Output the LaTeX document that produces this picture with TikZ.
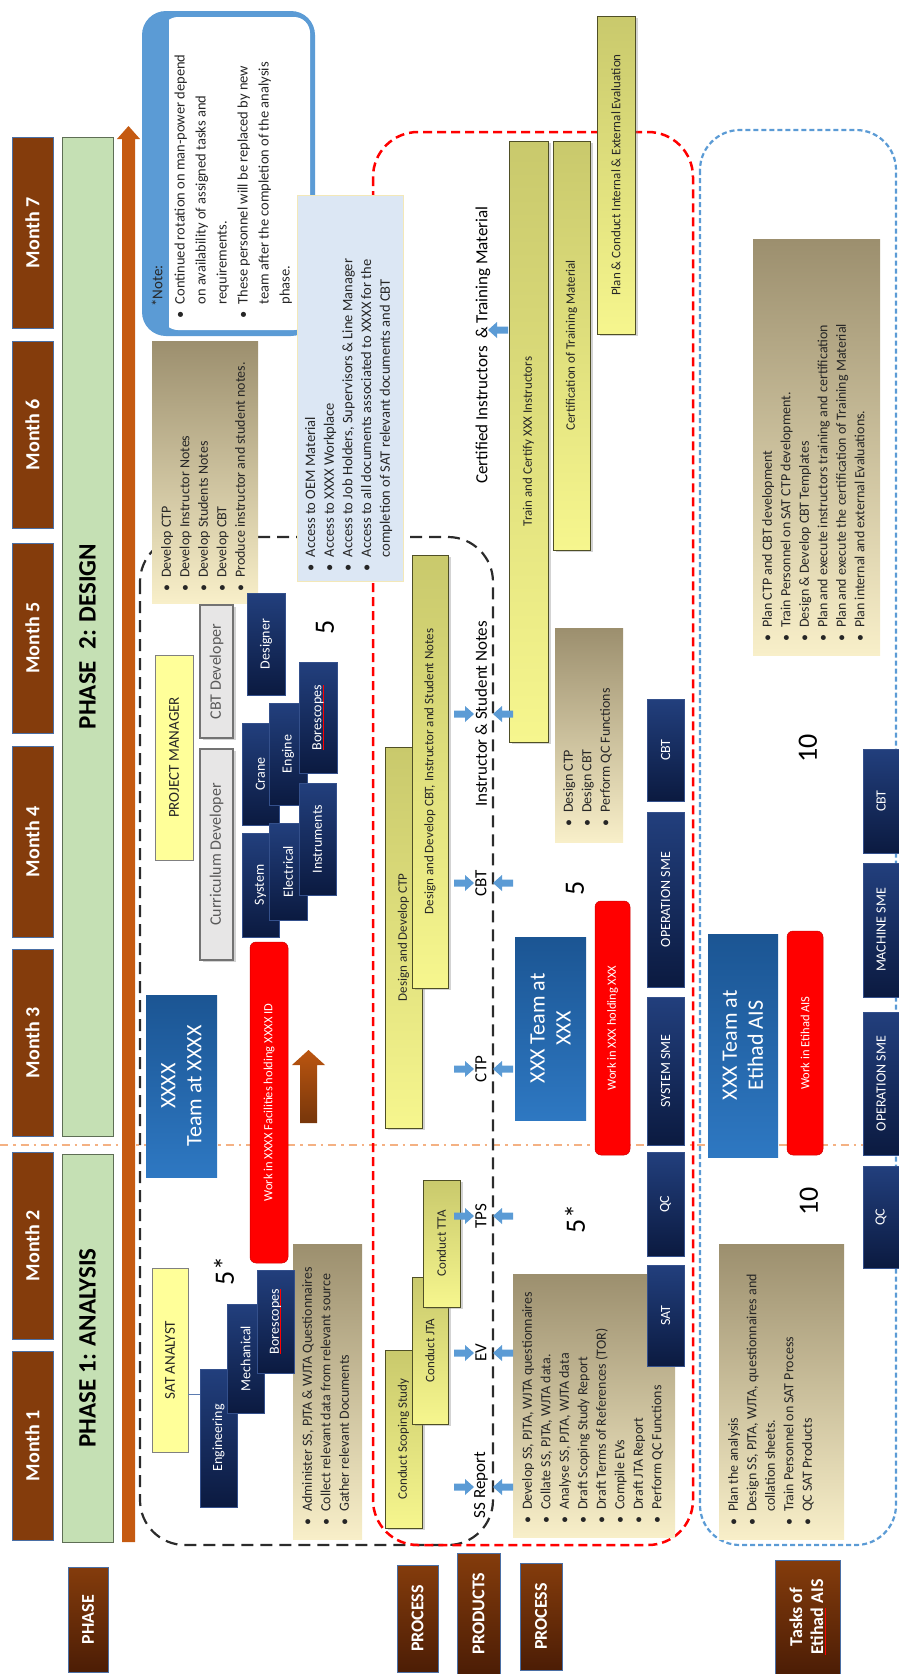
\documentclass[tikz,border=0pt]{standalone}
\usepackage{fontspec}
\setmainfont{Carlito}
\usetikzlibrary{calc,shadows}

\definecolor{brn}{HTML}{843C0C}
\definecolor{brnD}{HTML}{4C1D05}
\definecolor{edgeb}{HTML}{4A6FA5}
\definecolor{grn}{HTML}{C5E0B4}
\definecolor{grnedge}{HTML}{5E6E55}
\definecolor{org}{HTML}{C55A11}
\definecolor{noteb}{HTML}{5B9BD5}
\definecolor{beigeD}{HTML}{9C8F6E}
\definecolor{beigeL}{HTML}{F8EFC9}
\definecolor{ltblue}{HTML}{DCE7F4}
\definecolor{ltbedge}{HTML}{F3E8B8}
\definecolor{ylwD}{HTML}{C9C96C}
\definecolor{ylwL}{HTML}{F6F68E}
\definecolor{ylwedge}{HTML}{4F4F26}
\definecolor{navyL}{HTML}{223F7D}
\definecolor{navyD}{HTML}{0B1A40}
\definecolor{navyedge}{HTML}{34508C}
\definecolor{teamD}{HTML}{1B5593}
\definecolor{teamL}{HTML}{2E78C2}
\definecolor{peach}{HTML}{F4B183}
\definecolor{arrb}{HTML}{5B9BD5}
\definecolor{txt}{HTML}{262626}
\definecolor{greybox}{HTML}{E7E6E6}
\definecolor{greytxt}{HTML}{595959}
\definecolor{roleyl}{HTML}{FFFF99}
\definecolor{dashblk}{HTML}{2B2B2B}
\definecolor{linkb}{HTML}{5B7BB0}

% box given by its corners (x1,y1) and (x2,y2), y measured downwards
\newcommand\rbx[6]{%
  \pgfmathsetmacro\rbxcx{(#3+#5)/2}%
  \pgfmathsetmacro\rbxcy{(#4+#6)/2}%
  \pgfmathsetmacro\rbxw{#5-#3}%
  \pgfmathsetmacro\rbxh{#6-#4}%
  \node[inner sep=0pt, outer sep=0pt, #2, minimum width=\rbxw pt, minimum height=\rbxh pt] (#1) at (\rbxcx,\rbxcy) {};}
% box with a centred, upright-reading (rotated) label
\newcommand\tbx[8]{\rbx{#1}{#2}{#4}{#5}{#6}{#7}\node[rotate=90, #3] (#1-t) at (#1.center) {#8};}
% bullet list as a table
\newcommand\blist[1]{\begin{tabular}{@{}l@{\hspace{0.45em}}l@{}}#1\end{tabular}}
% word with a red spelling underline
\newsavebox\ulbox
\newcommand\redul[1]{\sbox\ulbox{#1}\rlap{\textcolor{red}{\rule[-2.2pt]{\wd\ulbox}{0.9pt}}}\usebox\ulbox}
% small blue block arrows
\newcommand\arrR[2]{\fill[arrb] (#1-10,#2-3.5) -- (#1+1,#2-3.5) -- (#1+1,#2-8) -- (#1+10,#2) -- (#1+1,#2+8) -- (#1+1,#2+3.5) -- (#1-10,#2+3.5) -- cycle;}
\newcommand\arrL[2]{\fill[arrb] (#1+10,#2-3.5) -- (#1-1,#2-3.5) -- (#1-1,#2-8) -- (#1-10,#2) -- (#1-1,#2+8) -- (#1-1,#2+3.5) -- (#1+10,#2+3.5) -- cycle;}

\begin{document}
\begin{tikzpicture}[x=1pt, y=-1pt,
  every node/.style={inner sep=0pt, outer sep=0pt},
  month/.style={fill=brn, draw=edgeb, line width=0.8pt},
  mtext/.style={text=white, font=\fontsize{20}{24}\selectfont\bfseries},
  phasebar/.style={fill=grn, draw=grnedge, line width=1pt},
  phtext/.style={text=black, font=\fontsize{25}{30}\selectfont\bfseries},
  lab/.style={top color=brn, bottom color=brnD, draw=edgeb, line width=0.8pt},
  labtext/.style={text=white, font=\fontsize{18}{21}\selectfont\bfseries},
  beige/.style={top color=beigeD, bottom color=beigeL},
  blt/.style={rotate=90, anchor=north west, text=txt, font=\fontsize{14}{18.5}\selectfont},
  navy/.style={top color=navyL, bottom color=navyD, draw=navyedge, line width=0.6pt},
  ntext/.style={text=white, font=\fontsize{14}{16}\selectfont},
  ybar/.style={top color=ylwD, bottom color=ylwL, draw=ylwedge, line width=0.8pt, drop shadow={shadow xshift=2.5pt, shadow yshift=-2pt, opacity=0.35}},
  ytext/.style={text=txt, font=\fontsize{13}{15}\selectfont},
  team/.style={top color=teamD, bottom color=teamL},
  ttext/.style={text=white, align=center, font=\fontsize{22}{26}\selectfont},
  redbox/.style={fill=red, draw=red!80!black, line width=0.5pt, rounded corners=6pt},
  rtext/.style={text=white, font=\fontsize{12.5}{14}\selectfont},
  role/.style={fill=roleyl, draw=gray, line width=1pt},
  roletext/.style={text=txt, font=\fontsize{15}{18}\selectfont},
  grey/.style={fill=greybox, draw=gray!90!black, line width=1.2pt, drop shadow={shadow xshift=2.5pt, shadow yshift=-2pt, opacity=0.35}},
  greytext/.style={text=greytxt, font=\fontsize{16}{19}\selectfont},
  prod/.style={rotate=90, text=black, font=\fontsize{17}{20}\selectfont},
  num/.style={rotate=90, text=black, font=\fontsize{28}{32}\selectfont},
  blackdash/.style={draw=dashblk, line width=2.2pt, dash pattern=on 12pt off 7pt},
  reddash/.style={draw=red, line width=2.5pt, dash pattern=on 9pt off 5pt},
  bluedash/.style={draw=noteb, line width=2.2pt, dash pattern=on 5pt off 3pt}]

\useasboundingbox (0,0) rectangle (899,1674);

% boundary between the two phases
\coordinate (dl) at (0,1145);
\coordinate (dr) at (899,1145);
\draw[peach, line width=2.5pt, dash pattern=on 8pt off 5pt on 2.5pt off 5pt] (dl) -- (dr);

% dashed frames around the three groups of rows
\draw[blackdash, rounded corners=45pt] (140,537) rectangle (493,1545);
\draw[reddash, rounded corners=45pt] (373,132) rectangle (693,1545);
\draw[bluedash, rounded corners=40pt] (700,130) rectangle (896,1545);

% month headers
\foreach \n/\a/\b in {7/137/328, 6/341/528, 5/543/733, 4/746/937, 3/949/1136, 2/1152/1339, 1/1351/1540}{
  \tbx{m\n}{month}{mtext}{12}{\a}{53}{\b}{Month \n}
}

% phases
\tbx{ph2}{phasebar}{phtext}{62}{137}{113}{1136}{PHASE\ \ 2: DESIGN}
\tbx{ph1}{phasebar}{phtext}{62}{1154}{113}{1542}{PHASE 1: ANALYSIS}

% time axis
\fill[org] (122,1542) -- (122,139) -- (117,139) -- (128.5,126) -- (140,139) -- (135,139) -- (135,1542) -- cycle;

% note
\rbx{note}{fill=noteb, rounded corners=24pt}{142}{11}{315}{336}
\fill[white, rounded corners=16pt] (162,17) rectangle (310,330);
\fill[noteb] (155,17) rectangle (169,330);
\node[rotate=90, text=txt, font=\fontsize{15}{18}\selectfont] (note-h) at (157,286) {*Note:};
\node[blt, font=\fontsize{14.5}{21}\selectfont] (note-t) at (170,318) {\blist{%
\textbullet & Continued rotation on man-power depend\\
 & on availability of assigned tasks and\\
 & requirements.\\
\textbullet & These personnel will be replaced by new\\
 & team after the completion of the analysis\\
 & phase.}};

% access list
\rbx{acc}{fill=ltblue, draw=ltbedge, line width=1pt}{297}{195}{403}{581}
\node[blt, font=\fontsize{14.5}{18.7}\selectfont] (acc-t) at ($(acc.south west)+(5,-10)$) {\blist{%
\textbullet & Access to OEM Material\\
\textbullet & Access to XXXX Workplace\\
\textbullet & Access to Job Holders, Supervisors \& Line Manager\\
\textbullet & Access to all documents associated to XXXX for the\\
 & completion of SAT relevant documents and CBT}};

% task lists
\rbx{dctp}{beige}{152}{341}{258}{603}
\node[blt] (dctp-t) at ($(dctp.south west)+(6,-12)$) {\blist{%
\textbullet & Develop CTP\\
\textbullet & Develop Instructor Notes\\
\textbullet & Develop Students Notes\\
\textbullet & Develop CBT\\
\textbullet & Produce instructor and student notes.}};

\rbx{adm}{beige}{293}{1244}{362}{1539}
\node[blt] (adm-t) at ($(adm.south west)+(6,-14)$) {\blist{%
\textbullet & Administer SS, PJTA \& WJTA Questionnaires\\
\textbullet & Collect relevant data from relevant source\\
\textbullet & Gather relevant Documents}};

\rbx{dss}{beige}{513}{1274}{675}{1537}
\node[blt] (dss-t) at ($(dss.south west)+(6,-14)$) {\blist{%
\textbullet & Develop SS, PJTA, WJTA questionnaires\\
\textbullet & Collate SS, PJTA, WJTA data.\\
\textbullet & Analyse SS, PJTA, WJTA data\\
\textbullet & Draft Scoping Study Report\\
\textbullet & Draft Terms of References (TOR)\\
\textbullet & Compile EVs\\
\textbullet & Draft JTA Report\\
\textbullet & Perform QC Functions}};

\rbx{dcb}{beige}{555}{628}{623}{842}
\node[blt] (dcb-t) at ($(dcb.south west)+(5,-16)$) {\blist{%
\textbullet & Design CTP\\
\textbullet & Design CBT\\
\textbullet & Perform QC Functions}};

\rbx{pan}{beige}{719}{1244}{844}{1539}
\node[blt] (pan-t) at ($(pan.south west)+(6,-14)$) {\blist{%
\textbullet & Plan the analysis\\
\textbullet & Design SS, PJTA, WJTA, questionnaires and\\
 & collation sheets.\\
\textbullet & Train Personnel on SAT Process\\
\textbullet & QC SAT Products}};

\rbx{pctp}{beige}{753}{239}{880}{655}
\node[blt] (pctp-t) at ($(pctp.south west)+(6,-14)$) {\blist{%
\textbullet & Plan CTP and CBT development\\
\textbullet & Train Personnel on SAT CTP development.\\
\textbullet & Design \& Develop CBT Templates\\
\textbullet & Plan and execute instructors training and certification\\
\textbullet & Plan and execute the certification of Training Material\\
\textbullet & Plan internal and external Evaluations.}};

% phase 1 team
\tbx{sat}{role}{roletext}{152}{1268}{188}{1452}{SAT ANALYST}
\tbx{eng}{navy}{ntext}{200}{1369}{237}{1507}{Engineering}
\tbx{mech}{navy}{ntext}{227}{1304}{264}{1413}{Mechanical}
\tbx{bor1}{navy}{ntext}{257}{1270}{294}{1373}{\redul{Borescopes}}
\coordinate (lnk) at (0,1394);
\draw[linkb, line width=1pt] (sat.east |- lnk) -- (eng.west |- lnk);

% phase 2 team
\tbx{pm}{role}{roletext}{155}{655}{193}{860}{PROJECT MANAGER}
\tbx{cbtdev}{grey}{greytext}{200}{605}{233}{738}{CBT Developer}
\tbx{curdev}{grey}{greytext}{200}{749}{233}{960}{Curriculum Developer}
\tbx{des}{navy}{ntext}{247}{593}{285}{695}{Designer}
\tbx{crane}{navy}{ntext}{242}{723}{279}{825}{Crane}
\tbx{sys}{navy}{ntext}{242}{833}{279}{937}{System}
\tbx{engn}{navy}{ntext}{269}{703}{307}{805}{Engine}
\tbx{elec}{navy}{ntext}{269}{823}{307}{920}{Electrical}
\tbx{bor2}{navy}{ntext}{299}{662}{337}{773}{\redul{Borescopes}}
\tbx{inst}{navy}{ntext}{299}{783}{336}{895}{Instruments}

% on-site teams
\tbx{tm1}{team}{ttext}{146}{995}{217}{1177}{XXXX\\Team at XXXX}
\tbx{wk1}{redbox}{rtext}{250}{942}{288}{1263}{Work in XXXX Facilities holding XXXX ID}
\shade[top color=org!95!black, bottom color=brn!90!black] (300,1123) -- (300,1065) -- (292,1065) -- (308.5,1050) -- (325,1065) -- (317,1065) -- (317,1123) -- cycle;

\tbx{tm2}{team}{ttext}{515}{937}{586}{1120}{XXX Team at\\XXX}
\tbx{wk2}{redbox}{rtext}{595}{901}{630}{1155}{Work in XXX holding XXX}
\tbx{tm3}{team}{ttext}{708}{934}{778}{1157}{XXX Team at\\Etihad AIS}
\tbx{wk3}{redbox}{rtext}{787}{931}{823}{1155}{Work in Etihad AIS}

% specialists
\tbx{s1}{navy}{ntext}{647}{699}{684}{801}{CBT}
\tbx{s2}{navy}{ntext}{647}{812}{684}{987}{OPERATION SME}
\tbx{s3}{navy}{ntext}{647}{997}{684}{1145}{SYSTEM SME}
\tbx{s4}{navy}{ntext}{647}{1152}{684}{1256}{QC}
\tbx{s5}{navy}{ntext}{647}{1265}{684}{1366}{SAT}
\tbx{e1}{navy}{ntext}{863}{749}{899}{853}{CBT}
\tbx{e2}{navy}{ntext}{863}{863}{899}{997}{MACHINE SME}
\tbx{e3}{navy}{ntext}{863}{1012}{899}{1155}{OPERATION SME}
\tbx{e4}{navy}{ntext}{863}{1166}{899}{1268}{QC}

% process bars
\tbx{pr1}{ybar}{ytext}{385}{1350}{422}{1528}{Conduct Scoping Study}
\tbx{pr2}{ybar}{ytext}{412}{1277}{448}{1424}{Conduct JTA}
\tbx{pr3}{ybar}{ytext}{423}{1180}{460}{1307}{Conduct TTA}
\tbx{pr4}{ybar}{ytext}{385}{747}{422}{1128}{Design and Develop CTP}
\tbx{pr5}{ybar}{ytext}{412}{555}{448}{988}{Design and Develop CBT, Instructor and Student Notes}
\tbx{pr6}{ybar}{ytext}{509}{141}{548}{742}{Train and Certify XXX Instructors}
\tbx{pr7}{ybar}{ytext}{553}{141}{590}{550}{Certification of Training Material}
\tbx{pr8}{ybar}{ytext}{597}{16}{635}{334}{Plan \& Conduct Internal \& External Evaluation}

% products
\node[prod] (p-cert) at (483,345) {Certified Instructors \ \& Training Material};
\node[prod] (p-isn) at (481,714) {Instructor \& Student Notes};
\node[prod] (p-cbt) at (481,883) {CBT};
\node[prod] (p-ctp) at (481,1069) {CTP};
\node[prod] (p-tps) at (481,1216) {TPS};
\node[prod] (p-ev) at (481,1353) {EV};
\node[prod] (p-ss) at (481,1485) {SS Report};
\arrL{498}{330}
\foreach \yy in {714,883,1069,1216,1353,1487}{
  \arrR{464}{\yy}
  \arrL{503}{\yy}
}

% head counts
\node[num] (n1) at (224,1271) {5*};
\node[num] (n2) at (325,627) {5};
\node[num] (n3) at (575,888) {5};
\node[num] (n4) at (575,1219) {5*};
\node[num] (n5) at (808,748) {10};
\node[num] (n6) at (809,1201) {10};

% row labels
\tbx{lphase}{lab}{labtext}{68}{1567}{108}{1672}{PHASE}
\tbx{lproc1}{lab}{labtext}{397}{1565}{438}{1672}{PROCESS}
\tbx{lprod}{lab}{labtext}{457}{1553}{500}{1674}{PRODUCTS}
\tbx{lproc2}{lab}{labtext}{520}{1563}{562}{1670}{PROCESS}
\tbx{ltask}{lab}{labtext, align=center}{775}{1560}{840}{1674}{Tasks of\\\redul{Etihad} AIS}

\end{tikzpicture}
\end{document}
